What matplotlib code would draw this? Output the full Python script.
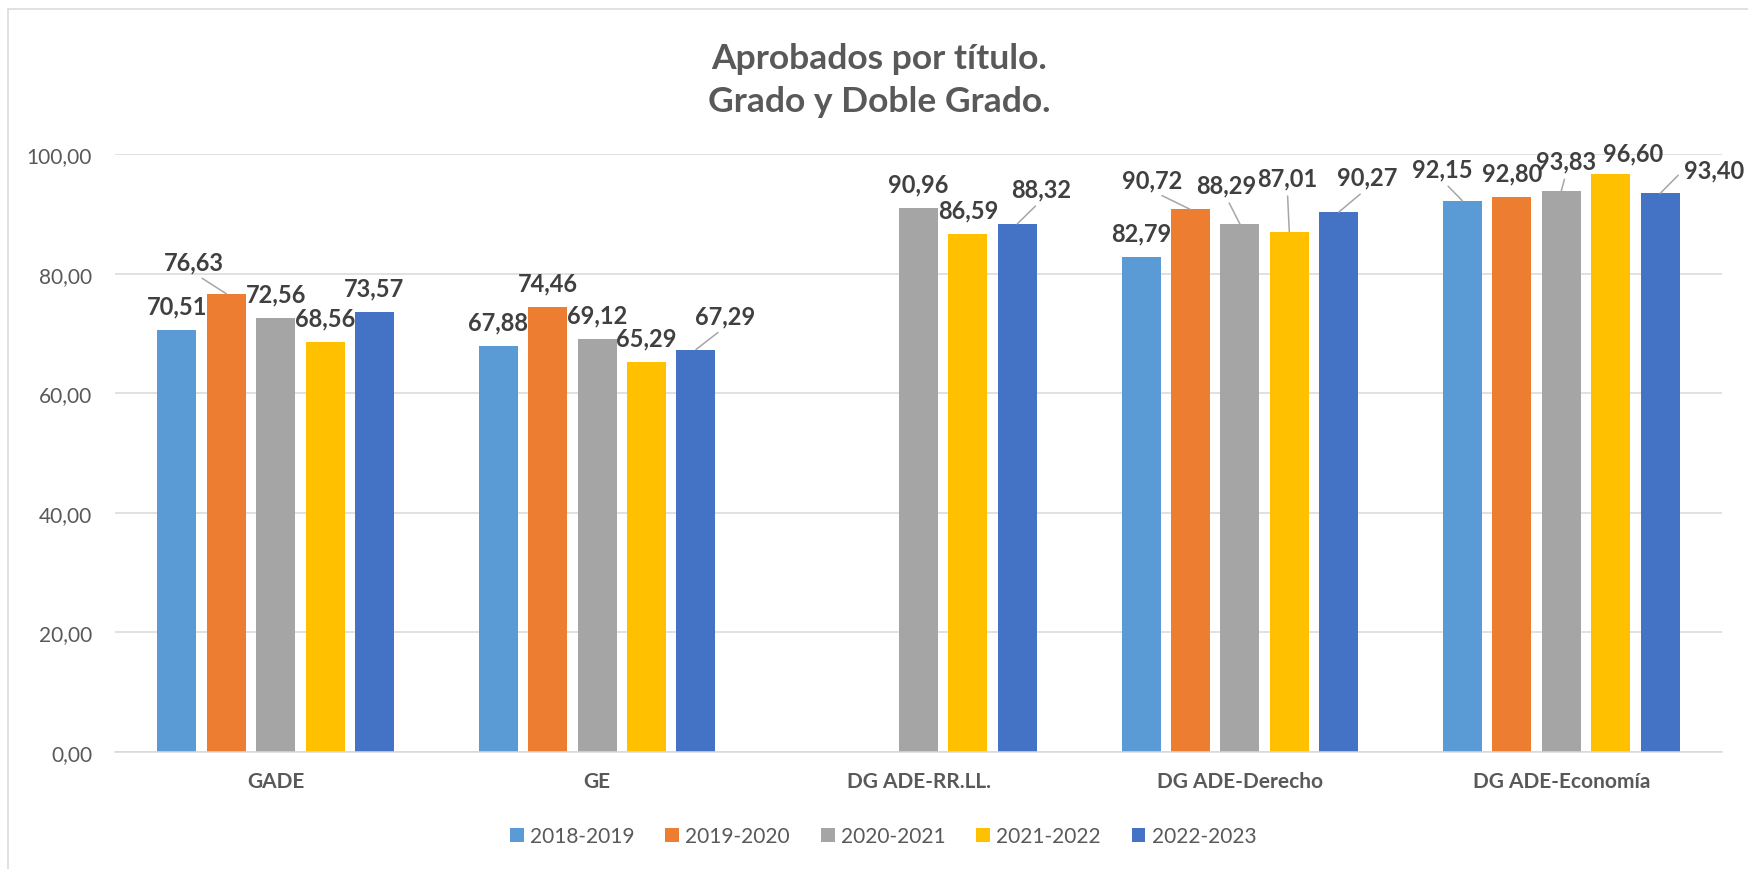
import numpy as np
import matplotlib
matplotlib.use('Agg')
import matplotlib.pyplot as plt
from matplotlib.patches import Rectangle

plt.rcParams['font.family'] = ['Lato', 'DejaVu Sans']

# data
categories = ['GADE', 'GE', 'DG ADE-RR.LL.', 'DG ADE-Derecho', 'DG ADE-Economía']
seasons = ['2018-2019', '2019-2020', '2020-2021', '2021-2022', '2022-2023']
v_2018_2019 = [70.51, 67.88, np.nan, 82.79, 92.15]
v_2019_2020 = [76.63, 74.46, np.nan, 90.72, 92.80]
v_2020_2021 = [72.56, 69.12, 90.96, 88.29, 93.83]
v_2021_2022 = [68.56, 65.29, 86.59, 87.01, 96.60]
v_2022_2023 = [73.57, 67.29, 88.32, 90.27, 93.40]
y_ticks = [0, 20, 40, 60, 80, 100]

series = [v_2018_2019, v_2019_2020, v_2020_2021, v_2021_2022, v_2022_2023]
colors = ['#5B9BD5', '#ED7D31', '#A5A5A5', '#FFC000', '#4472C4']

# data label placement in pixels from bar top: (dx, dy up, leader relpos)
default_label = (0, 25, None)
label_moves = {
    (1, 0): (-32, 33, (0.5, 0)),
    (4, 1): (29, 35, (0.5, 0)),
    (4, 2): (24, 36, (0.5, 0)),
    (1, 3): (-38, 31, (0.5, 0)),
    (2, 3): (-14, 40, (0.5, 0)),
    (3, 3): (-2, 55, (0.5, 0)),
    (4, 3): (28, 36, (0.5, 0)),
    (0, 4): (-20, 33, (0.5, 0)),
    (2, 4): (5, 31, (0.5, 0)),
    (3, 4): (22, 22, None),
    (4, 4): (54, 25, (0, 0.5)),
}


def fmt(v):
    return f'{v:.2f}'.replace('.', ',')


W, H = 1748, 870
fig = plt.figure(figsize=(W / 100, H / 100), dpi=100)
ax = fig.add_axes([115 / W, 117 / H, 1607 / W, 598 / H])

x = np.arange(len(categories))
bar_w = 0.1213
step = 0.1537

for i, (vals, col, name) in enumerate(zip(series, colors, seasons)):
    xs = x + (i - 2) * step
    ax.bar(xs, vals, width=bar_w, color=col, label=name, zorder=2)
    for j, v in enumerate(vals):
        if np.isnan(v):
            continue
        dx, dy, rel = label_moves.get((i, j), default_label)
        arrow = None
        if rel is not None:
            arrow = dict(arrowstyle='-', color='#A6A6A6', lw=1.1,
                         relpos=rel, shrinkA=3, shrinkB=0)
        ax.annotate(fmt(v), xy=(xs[j], v), xytext=(dx, dy - 8.5),
                    textcoords='offset pixels', ha='center', va='baseline',
                    fontsize=17, fontweight='bold', color='#404040',
                    arrowprops=arrow, zorder=3)

ax.set_xlim(-0.5, len(categories) - 0.5)
ax.set_ylim(0, 100)
ax.set_yticks(y_ticks)
ax.set_yticklabels([fmt(t) for t in y_ticks], fontsize=15, color='#595959')
ax.set_xticks(x)
ax.set_xticklabels(categories, fontsize=15, fontweight='bold', color='#595959')
ax.tick_params(axis='y', length=0, pad=16.5)
ax.tick_params(axis='x', length=0, pad=14)

ax.yaxis.grid(True, color='#D9D9D9', lw=1.1)
ax.set_axisbelow(True)
for s in ['top', 'right', 'left']:
    ax.spines[s].set_visible(False)
ax.spines['bottom'].set_color('#D9D9D9')
ax.spines['bottom'].set_linewidth(1.1)

fig.text(879 / W, 1 - 43 / H, 'Aprobados por título.\nGrado y Doble Grado.',
         ha='center', va='top', fontsize=25.5, fontweight='bold',
         color='#595959', linespacing=1.44)

fig.legend(loc='center', bbox_to_anchor=(883 / W, 1 - 837 / H), ncol=5,
           frameon=False, fontsize=15, labelcolor='#595959',
           handlelength=0.67, handleheight=0.67, handletextpad=0.29,
           columnspacing=1.48)

# chart area border
fig.add_artist(Rectangle((8 / W, -0.05), 1.1, 1 - 10 / H + 0.05,
                         transform=fig.transFigure, fill=False,
                         ec='#D9D9D9', lw=1.1))

fig.savefig('out.png', dpi=100)
